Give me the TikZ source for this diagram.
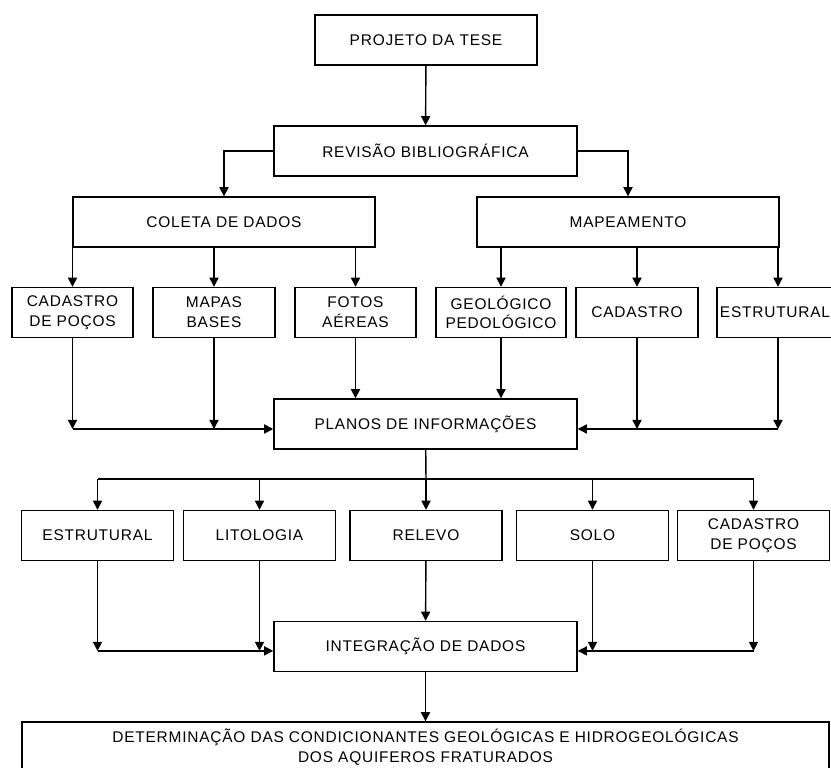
\documentclass[tikz,border=0pt]{standalone}
\usepackage{fontspec}
\setmainfont[LetterSpace=5]{Liberation Sans}
\usetikzlibrary{arrows.meta}

\tikzset{
    caixa/.style={draw, line width=1pt, minimum height=1.25cm, align=center,
        inner sep=2pt, font=\fontsize{11pt}{14pt}\selectfont},
    seta/.style={line width=1pt, -{Triangle[length=6.5pt,width=6.5pt]}}
}

\begin{document}
\begin{tikzpicture}[x=0.025cm, y=-0.025cm, line width=1pt]
    \useasboundingbox (0,0) rectangle (831,768);

    \node[caixa, minimum width=5.55cm] (proj) at (426,40) {PROJETO DA TESE};
    \node[caixa, minimum width=7.575cm] (rev) at (425.5,151) {REVISÃO BIBLIOGRÁFICA};
    \node[caixa, minimum width=7.55cm] (col) at (224,222) {COLETA DE DADOS};
    \node[caixa, minimum width=7.55cm] (map) at (628,222) {MAPEAMENTO};

    \node[caixa, minimum width=3.025cm] (cp1) at (72.5,312.5) {CADASTRO\\DE POÇOS};
    \node[caixa, minimum width=3.05cm] (mb) at (214,312.5) {MAPAS\\BASES};
    \node[caixa, minimum width=3.025cm] (fa) at (355.5,312.5) {FOTOS\\AÉREAS};
    \node[caixa, minimum width=3.25cm] (geo) at (501,312.5) {GEOLÓGICO\\PEDOLÓGICO};
    \node[caixa, minimum width=3.05cm] (cad) at (637,312.5) {CADASTRO};
    \node[caixa, minimum width=3cm, text width=2.9cm, align=left] (est) at (778,312.5) {ESTRUTURAL};

    \node[caixa, minimum width=7.575cm] (plan) at (425.5,424) {PLANOS DE INFORMAÇÕES};

    \node[caixa, minimum width=3.8cm] (est2) at (97.5,535.5) {ESTRUTURAL};
    \node[caixa, minimum width=3.8cm] (lit) at (259.5,535.5) {LITOLOGIA};
    \node[caixa, minimum width=3.8cm] (rel) at (426,535.5) {RELEVO};
    \node[caixa, minimum width=3.8cm] (solo) at (592.5,535.5) {SOLO};
    \node[caixa, minimum width=3.8cm] (cad2) at (753.5,535.5) {CADASTRO\\DE POÇOS};

    \node[caixa, minimum width=7.575cm] (intg) at (425.5,646.5) {INTEGRAÇÃO DE DADOS};
    \node[caixa, minimum width=20.175cm] (final) at (425.5,747)
        {DETERMINAÇÃO DAS CONDICIONANTES GEOLÓGICAS E HIDROGEOLÓGICAS\\DOS AQUIFEROS FRATURADOS};

    \coordinate (inL) at ([yshift=-0.125cm]plan.west);
    \coordinate (inR) at ([yshift=-0.125cm]plan.east);
    \coordinate (bus) at (426,479);
    \coordinate (inL2) at ([yshift=-0.11cm]intg.west);
    \coordinate (inR2) at ([yshift=-0.11cm]intg.east);

    \draw[seta] (proj) -- (rev);
    \draw[seta] (rev.west) -| (col);
    \draw[seta] (rev.east) -| (map);

    \foreach \n in {cp1,mb,fa} {
        \draw[seta] (col.south -| \n) -- (\n);
    }
    \foreach \n in {geo,cad,est} {
        \draw[seta] (map.south -| \n) -- (\n);
    }

    \foreach \n in {cp1,mb} {
        \draw[seta] (\n) -- (\n |- inL);
    }
    \draw[seta] (cp1 |- inL) -- (inL);
    \draw[seta] (fa) -- (fa |- plan.north);
    \draw[seta] (geo) -- (geo |- plan.north);
    \foreach \n in {cad,est} {
        \draw[seta] (\n) -- (\n |- inR);
    }
    \draw[seta] (est |- inR) -- (inR);

    \draw (plan) -- (bus);
    \draw (bus -| est2) -- (bus -| cad2);
    \foreach \n in {est2,lit,rel,solo,cad2} {
        \draw[seta] (bus -| \n) -- (\n);
    }

    \foreach \n in {est2,lit} {
        \draw[seta] (\n) -- (\n |- inL2);
    }
    \draw[seta] (est2 |- inL2) -- (inL2);
    \draw[seta] (rel) -- (intg);
    \foreach \n in {solo,cad2} {
        \draw[seta] (\n) -- (\n |- inR2);
    }
    \draw[seta] (cad2 |- inR2) -- (inR2);

    \draw[seta] (intg) -- (final);

\end{tikzpicture}
\end{document}
